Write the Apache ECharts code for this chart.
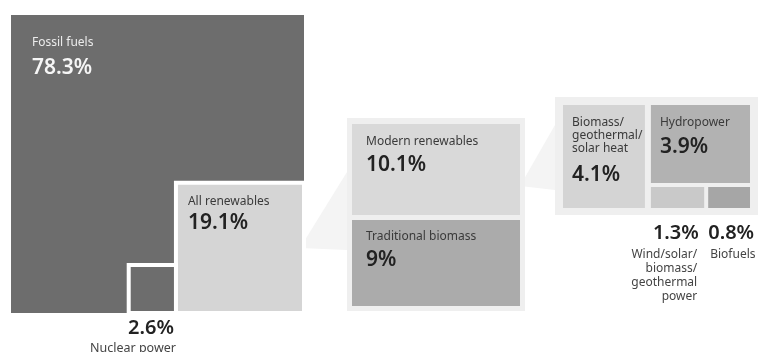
<!DOCTYPE html>
<html><head><meta charset="utf-8">
<script src="https://cdn.jsdelivr.net/npm/echarts@6/dist/echarts.min.js"></script>
<style>html,body{margin:0;padding:0;background:#fff}#c{width:758px;height:352px}</style>
</head><body><div id="c"></div>
<script>
// ---------------- data ----------------
const energyCategories = ['Fossil fuels', 'All renewables', 'Nuclear power'];
const energyValues = [78.3, 19.1, 2.6];
const renewableCategories = ['Modern renewables', 'Traditional biomass'];
const renewableValues = [10.1, 9];
const modernCategories = ['Biomass/\ngeothermal/\nsolar heat', 'Hydropower', 'Wind/solar/\nbiomass/\ngeothermal\npower', 'Biofuels'];
const modernValues = [4.1, 3.9, 1.3, 0.8];

// ---------------- layout / style ----------------
const FONT = '"Noto Sans", "DejaVu Sans", sans-serif';
const leftFrame = {x: 11, y: 15, w: 293, h: 298};
const midFrame = {x: 352, y: 124, w: 168, h: 182, gap: 5, pad: 5};
const rightFrame = {x: 563, y: 105, w: 187, h: 103, gap: 6, rowH: 21, rowGap: 4, pad: 8};

const cells = [];
const total = energyValues.reduce((a, b) => a + b, 0);
const sq = v => Math.sqrt(v / total);

// left: whole square = 100%, nested squares at bottom right
cells.push({name: energyCategories[0], value: energyValues[0], x: leftFrame.x, y: leftFrame.y, w: leftFrame.w, h: leftFrame.h,
  fill: '#6d6d6d', lx: 21, ly: 28, dy: 25, nameColor: '#ececec', valColor: '#f6f6f6', nameSize: 12});
const rw = leftFrame.w * sq(energyValues[1]), rh = leftFrame.h * sq(energyValues[1]);
const renew = {x: leftFrame.x + leftFrame.w - rw, y: leftFrame.y + leftFrame.h - rh, w: rw, h: rh};
cells.push({name: energyCategories[1], value: energyValues[1], x: renew.x, y: renew.y, w: rw, h: rh,
  fill: '#d5d5d5', border: true, lx: 12, ly: 19, dy: 21, nameColor: '#3a3a3a', valColor: '#222', nameSize: 12});
const nw = leftFrame.w * sq(energyValues[2]), nh = leftFrame.h * sq(energyValues[2]);
cells.push({name: energyCategories[2], value: energyValues[2], x: renew.x - nw, y: leftFrame.y + leftFrame.h - nh, w: nw, h: nh,
  fill: '#6d6d6d', border: true, outside: 'nuclear'});

// middle: renewables split, sqrt-weighted heights
const mws = renewableValues.map(v => Math.sqrt(v));
const mSum = mws.reduce((a, b) => a + b, 0);
let my = midFrame.y;
const midFills = ['#d9d9d9', '#ababab'];
const midLy = [18, 17];
renewableValues.forEach((v, i) => {
  const h = (midFrame.h - midFrame.gap) * mws[i] / mSum;
  cells.push({name: renewableCategories[i], value: v, x: midFrame.x, y: my, w: midFrame.w, h: h,
    fill: midFills[i], lx: 14, ly: midLy[i], dy: 23, nameColor: '#3a3a3a', valColor: '#222', nameSize: 12});
  my += h + midFrame.gap;
});

// right: modern renewables
const rwts = modernValues.map(v => Math.sqrt(v));
const leftW = (rightFrame.w - rightFrame.gap) * rwts[0] / (rwts[0] + Math.sqrt(modernValues[1] + modernValues[2] + modernValues[3]));
const colX = rightFrame.x + leftW + rightFrame.gap, colW = rightFrame.w - leftW - rightFrame.gap;
cells.push({name: modernCategories[0], value: modernValues[0], x: rightFrame.x, y: rightFrame.y, w: leftW, h: rightFrame.h,
  fill: '#d4d4d4', lx: 9, ly: 18, dy: 52, nameColor: '#3a3a3a', valColor: '#222', nameSize: 12, multi: true});
const hydroH = rightFrame.h - rightFrame.rowH - rightFrame.rowGap;
cells.push({name: modernCategories[1], value: modernValues[1], x: colX, y: rightFrame.y, w: colW, h: hydroH,
  fill: '#b2b2b2', lx: 9, ly: 18, dy: 24, nameColor: '#3a3a3a', valColor: '#222', nameSize: 12});
const smallW = colW - rightFrame.rowGap;
const ww = smallW * rwts[2] / (rwts[2] + rwts[3]);
const rowY = rightFrame.y + hydroH + rightFrame.rowGap;
cells.push({name: modernCategories[2], value: modernValues[2], x: colX, y: rowY, w: ww, h: rightFrame.rowH,
  fill: '#c9c9c9', outside: 'wind'});
cells.push({name: modernCategories[3], value: modernValues[3], x: colX + ww + rightFrame.rowGap, y: rowY, w: smallW - ww, h: rightFrame.rowH,
  fill: '#a6a6a6', outside: 'bio'});

// decorations: panels and connector wedges
const midInnerBottom = my - midFrame.gap;
const decor = [
  {type: 'poly', pts: [[renew.x + renew.w - 4, 248], [midFrame.x - midFrame.pad, 172], [midFrame.x - midFrame.pad, 250]], fill: '#f4f4f4'},
  {type: 'poly', pts: [[midFrame.x + midFrame.w, 186], [rightFrame.x - rightFrame.pad, 125], [rightFrame.x - rightFrame.pad, 190]], fill: '#f4f4f4'},
  {type: 'rect', x: midFrame.x - midFrame.pad, y: midFrame.y - 6, w: midFrame.w + 2 * midFrame.pad, h: midInnerBottom - midFrame.y + 11, fill: '#efefef'},
  {type: 'rect', x: rightFrame.x - rightFrame.pad, y: rightFrame.y - rightFrame.pad, w: rightFrame.w + 2 * rightFrame.pad, h: rightFrame.h + 15, fill: '#efefef'}
];

function txt(p, text, o) {
  return {type: 'text', x: p[0], y: p[1], silent: true,
    style: {text: text, fill: o.fill, font: (o.weight || 'normal') + ' ' + o.size + 'px ' + FONT,
      align: o.align || 'left', textAlign: o.align || 'left',
      verticalAlign: o.va || 'middle', textVerticalAlign: o.va || 'middle', lineHeight: o.lh}};
}

function renderDecor(params, api) {
  const d = decor[params.dataIndex];
  if (d.type === 'poly') {
    return {type: 'polygon', shape: {points: d.pts.map(p => api.coord(p))}, style: {fill: d.fill}};
  }
  const a = api.coord([d.x, d.y]), b = api.coord([d.x + d.w, d.y + d.h]);
  return {type: 'rect', shape: {x: a[0], y: a[1], width: b[0] - a[0], height: b[1] - a[1]}, style: {fill: d.fill}};
}

function renderCell(params, api) {
  const c = cells[params.dataIndex];
  const a = api.coord([c.x, c.y]), b = api.coord([c.x + c.w, c.y + c.h]);
  const children = [{type: 'rect', shape: {x: a[0], y: a[1], width: b[0] - a[0], height: b[1] - a[1]},
    style: {fill: c.fill, stroke: c.border ? '#ffffff' : null, lineWidth: c.border ? 4 : 0}}];
  const val = api.value(0) + '%';
  if (!c.outside) {
    if (c.multi) {
      children.push(txt(api.coord([c.x + c.lx, c.y + c.ly - 6.5]), c.name, {fill: c.nameColor, size: c.nameSize, va: 'top', lh: 12.8}));
    } else {
      children.push(txt(api.coord([c.x + c.lx, c.y + c.ly]), c.name, {fill: c.nameColor, size: c.nameSize}));
    }
    children.push(txt(api.coord([c.x + c.lx, c.y + c.ly + c.dy]), val, {fill: c.valColor, size: 21, weight: 600}));
  } else if (c.outside === 'nuclear') {
    const r = c.x + c.w - 2, bot = c.y + c.h;
    children.push(txt(api.coord([r, bot + 15]), val, {fill: '#222', size: 20, weight: 600, align: 'right'}));
    children.push(txt(api.coord([r + 2, bot + 35]), c.name, {fill: '#444', size: 12.5, align: 'right'}));
  } else if (c.outside === 'wind') {
    const bot = c.y + c.h;
    children.push(txt(api.coord([c.x + 2, bot + 25]), val, {fill: '#222', size: 20, weight: 600}));
    children.push(txt(api.coord([c.x + c.w - 7, bot + 40]), c.name, {fill: '#444', size: 12, align: 'right', va: 'top', lh: 14}));
  } else if (c.outside === 'bio') {
    const bot = c.y + c.h;
    children.push(txt(api.coord([c.x, bot + 25]), val, {fill: '#222', size: 20, weight: 600}));
    children.push(txt(api.coord([c.x + 2, bot + 47]), c.name, {fill: '#444', size: 12}));
  }
  return {type: 'group', children: children};
}

const chart = echarts.init(document.getElementById('c'), null, {renderer: 'canvas'});
chart.setOption({
  backgroundColor: '#ffffff',
  animation: false,
  grid: {left: 0, right: 0, top: 0, bottom: 0},
  xAxis: {type: 'value', min: 0, max: 758, show: false},
  yAxis: {type: 'value', min: 0, max: 352, inverse: true, show: false},
  series: [
    {type: 'custom', coordinateSystem: 'cartesian2d', renderItem: renderDecor, data: decor.map((d, i) => [i]), silent: true, z: 1},
    {type: 'custom', coordinateSystem: 'cartesian2d', renderItem: renderCell, data: cells.map(c => [c.value]), silent: true, z: 2, clip: false}
  ]
});
</script></body></html>
